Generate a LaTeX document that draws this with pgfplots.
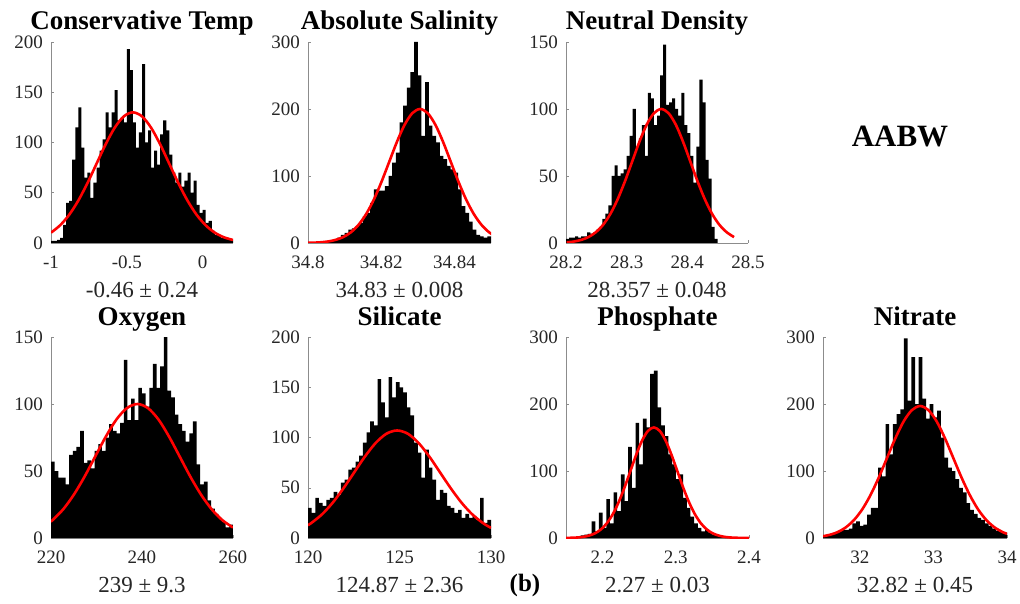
\documentclass[border=0pt]{standalone}
\usepackage{fontspec}
\setmainfont{Liberation Serif}
\usepackage{pgfplots}
\pgfplotsset{compat=1.18}
\definecolor{axgray}{gray}{0.55}
\definecolor{lblgray}{gray}{0.15}
\newcommand{\nodepth}[1]{\raisebox{0pt}[\height][0pt]{#1}}
\pgfplotsset{
  hist/.style={
    scale only axis, width=182pt, height=201pt,
    axis x line*=bottom, axis y line*=left,
    axis line style={axgray, line width=0.6pt},
    tick style={axgray, line width=0.5pt},
    tick align=inside, major tick length=3pt,
    enlargelimits=false, ymin=0,
    tick label style={font=\fontsize{19}{19}\selectfont, text=lblgray},
    xticklabel style={anchor=base, yshift=-25pt, inner sep=0pt},
    yticklabel style={anchor=east, xshift=-8pt, inner sep=0pt},
    title style={at={(axis description cs:0.5,1)}, anchor=base, yshift=6pt,
      font=\fontsize{27}{27}\bfseries\selectfont, inner sep=0pt},
    xlabel style={at={(axis description cs:0.5,0)}, anchor=base, yshift=-54pt,
      font=\fontsize{23}{23}\selectfont, text=lblgray, inner sep=0pt},
  },
  bars/.style={ybar interval, fill=black, draw=none},
  fit/.style={red, line width=2.6pt, smooth, no marks},
}
\begin{document}
\begin{tikzpicture}
\path[use as bounding box] (0pt,0pt) rectangle (1020pt,603pt);

% Conservative Temp
\begin{axis}[hist, at={(51pt,360pt)}, anchor=south west, width=182pt,
  xmin=-1, xmax=0.2, ymax=200,
  xtick={-1,-0.5,0}, xticklabels={-1,-0.5,0},
  ytick={0,50,100,150,200}, yticklabels={0,50,100,150,200},
  title={\nodepth{Conservative Temp}}, xlabel={-0.46 ± 0.24}]
\addplot[bars] coordinates {(-1.00,2) (-0.98,2) (-0.96,3) (-0.94,5) (-0.92,18) (-0.90,40) (-0.88,42) (-0.86,83) (-0.84,115) (-0.82,135) (-0.80,95) (-0.78,65) (-0.76,70) (-0.74,45) (-0.72,60) (-0.70,75) (-0.68,92) (-0.66,103) (-0.64,130) (-0.62,115) (-0.60,130) (-0.58,152) (-0.56,122) (-0.54,125) (-0.52,120) (-0.50,193) (-0.48,172) (-0.46,120) (-0.44,95) (-0.42,110) (-0.40,178) (-0.38,100) (-0.36,112) (-0.34,75) (-0.32,92) (-0.30,78) (-0.28,108) (-0.26,122) (-0.24,112) (-0.22,88) (-0.20,70) (-0.18,60) (-0.16,70) (-0.14,56) (-0.12,62) (-0.10,70) (-0.08,50) (-0.06,62) (-0.04,38) (-0.02,30) (0.00,33) (0.02,20) (0.04,22) (0.06,12) (0.08,8) (0.10,7) (0.12,5) (0.14,5) (0.16,4) (0.18,3) (0.20,3)};
\addplot[fit] coordinates {(-1.00,10.3) (-0.94,17.6) (-0.88,28.1) (-0.82,42.2) (-0.76,59.5) (-0.70,78.8) (-0.64,98.1) (-0.58,114.7) (-0.52,126.0) (-0.46,130) (-0.40,126.0) (-0.34,114.7) (-0.28,98.1) (-0.22,78.8) (-0.16,59.5) (-0.10,42.2) (-0.04,28.1) (0.02,17.6) (0.08,10.3) (0.14,5.7) (0.20,3.0)};
\end{axis}

% Absolute Salinity
\begin{axis}[hist, at={(308pt,360pt)}, anchor=south west, width=183pt,
  xmin=34.8, xmax=34.85, ymax=300,
  xtick={34.8,34.82,34.84}, xticklabels={34.8,34.82,34.84},
  ytick={0,100,200,300}, yticklabels={0,100,200,300},
  title={\nodepth{Absolute Salinity}}, xlabel={34.83 ± 0.008}]
\addplot[bars] coordinates {(34.800,0) (34.801,0) (34.802,0) (34.803,1) (34.804,1) (34.805,2) (34.806,3) (34.807,5) (34.808,8) (34.809,12) (34.810,15) (34.811,20) (34.812,22) (34.813,25) (34.814,30) (34.815,40) (34.816,45) (34.817,60) (34.818,80) (34.819,78) (34.820,78) (34.821,85) (34.822,100) (34.823,120) (34.824,135) (34.825,180) (34.826,205) (34.827,232) (34.828,255) (34.829,300) (34.830,250) (34.831,160) (34.832,240) (34.833,175) (34.834,160) (34.835,150) (34.836,130) (34.837,125) (34.838,115) (34.839,110) (34.840,105) (34.841,80) (34.842,55) (34.843,45) (34.844,32) (34.845,20) (34.846,12) (34.847,10) (34.848,8) (34.849,10) (34.850,10)};
\addplot[fit] coordinates {(34.8000,0.3) (34.8012,0.44) (34.8033,1.0) (34.8054,2.2) (34.8075,4.6) (34.8096,8.8) (34.8117,15.9) (34.8138,27.1) (34.8159,43.3) (34.8180,64.9) (34.8201,91.6) (34.8222,121.3) (34.8243,151.0) (34.8264,176.5) (34.8285,193.8) (34.8306,200) (34.8327,193.8) (34.8348,176.5) (34.8369,151.0) (34.8390,121.3) (34.8411,91.6) (34.8432,64.9) (34.8453,43.3) (34.8474,27.1) (34.8495,15.9) (34.8516,8.8)};
\end{axis}

% Neutral Density
\begin{axis}[hist, at={(566pt,360pt)}, anchor=south west, width=182pt,
  xmin=28.2, xmax=28.5, ymax=150,
  xtick={28.2,28.3,28.4,28.5}, xticklabels={28.2,28.3,28.4,28.5},
  ytick={0,50,100,150}, yticklabels={0,50,100,150},
  title={\nodepth{Neutral Density}}, xlabel={28.357 ± 0.048}]
\addplot[bars] coordinates {(28.200,3) (28.205,4) (28.210,4) (28.215,5) (28.220,4) (28.225,5) (28.230,5) (28.235,8) (28.240,7) (28.245,8) (28.250,10) (28.255,12) (28.260,18) (28.265,22) (28.270,28) (28.275,50) (28.280,58) (28.285,50) (28.290,52) (28.295,55) (28.300,65) (28.305,80) (28.310,100) (28.315,72) (28.320,78) (28.325,88) (28.330,65) (28.335,112) (28.340,108) (28.345,88) (28.350,95) (28.355,125) (28.360,148) (28.365,103) (28.370,105) (28.375,108) (28.380,100) (28.385,95) (28.390,112) (28.395,88) (28.400,82) (28.405,65) (28.410,45) (28.415,72) (28.420,122) (28.425,105) (28.430,62) (28.435,48) (28.440,12) (28.445,3) (28.450,3)};
\addplot[fit] coordinates {(28.201,0.5) (28.213,1.1) (28.225,2.3) (28.237,4.4) (28.249,8.0) (28.261,13.5) (28.273,21.6) (28.285,32.5) (28.297,45.8) (28.309,60.7) (28.321,75.5) (28.333,88.3) (28.345,96.9) (28.357,100) (28.369,96.9) (28.381,88.3) (28.393,75.5) (28.405,60.7) (28.417,45.8) (28.429,32.5) (28.441,21.6) (28.453,13.5) (28.465,8.0) (28.477,4.4)};
\end{axis}

% Oxygen
\begin{axis}[hist, at={(51pt,65pt)}, anchor=south west, width=182pt,
  xmin=220, xmax=260, ymax=150,
  xtick={220,240,260}, xticklabels={220,240,260},
  ytick={0,50,100,150}, yticklabels={0,50,100,150},
  title={\nodepth{Oxygen}}, xlabel={239 ± 9.3}]
\addplot[bars] coordinates {(220.0,57) (220.8,50) (221.6,45) (222.4,45) (223.2,40) (224.0,62) (224.8,65) (225.6,68) (226.4,80) (227.2,56) (228.0,58) (228.8,52) (229.6,65) (230.4,70) (231.2,65) (232.0,75) (232.8,85) (233.6,80) (234.4,78) (235.2,86) (236.0,133) (236.8,88) (237.6,104) (238.4,88) (239.2,112) (240.0,108) (240.8,98) (241.6,112) (242.4,130) (243.2,112) (244.0,128) (244.8,150) (245.6,110) (246.4,105) (247.2,92) (248.0,85) (248.8,80) (249.6,72) (250.4,78) (251.2,87) (252.0,55) (252.8,40) (253.6,42) (254.4,28) (255.2,22) (256.0,18) (256.8,15) (257.6,12) (258.4,8) (259.2,10) (260.0,10)};
\addplot[fit] coordinates {(220,12.4) (220.4,13.5) (222.725,21.6) (225.05,32.5) (227.375,45.8) (229.7,60.7) (232.025,75.5) (234.35,88.3) (236.675,96.9) (239,100) (241.325,96.9) (243.65,88.3) (245.975,75.5) (248.3,60.7) (250.625,45.8) (252.95,32.5) (255.275,21.6) (257.6,13.5) (260,7.8)};
\end{axis}

% Silicate
\begin{axis}[hist, at={(308pt,65pt)}, anchor=south west, width=183pt,
  xmin=120, xmax=130, ymax=200,
  xtick={120,125,130}, xticklabels={120,125,130},
  ytick={0,50,100,150,200}, yticklabels={0,50,100,150,200},
  title={\nodepth{Silicate}}, xlabel={124.87 ± 2.36}]
\addplot[bars] coordinates {(120.0,30) (120.2,25) (120.4,40) (120.6,35) (120.8,32) (121.0,38) (121.2,40) (121.4,46) (121.6,43) (121.8,55) (122.0,58) (122.2,68) (122.4,70) (122.6,76) (122.8,82) (123.0,95) (123.2,105) (123.4,116) (123.6,112) (123.8,158) (124.0,135) (124.2,120) (124.4,160) (124.6,140) (124.8,155) (125.0,150) (125.2,145) (125.4,130) (125.6,122) (125.8,95) (126.0,85) (126.2,60) (126.4,88) (126.6,70) (126.8,58) (127.0,38) (127.2,48) (127.4,45) (127.6,32) (127.8,30) (128.0,25) (128.2,28) (128.4,20) (128.6,24) (128.8,20) (129.0,22) (129.2,18) (129.4,40) (129.6,15) (129.8,18) (130.0,18)};
\addplot[fit] coordinates {(120,12.8) (120.15,14.5) (120.74,23.1) (121.33,34.7) (121.92,49.0) (122.51,64.9) (123.10,80.8) (123.69,94.4) (124.28,103.7) (124.87,107) (125.46,103.7) (126.05,94.4) (126.64,80.8) (127.23,64.9) (127.82,49.0) (128.41,34.7) (129.00,23.1) (129.59,14.5) (130,10.1)};
\end{axis}

% Phosphate
\begin{axis}[hist, at={(566pt,65pt)}, anchor=south west, width=183pt,
  xmin=2.15, xmax=2.4, ymax=300,
  xtick={2.2,2.3,2.4}, xticklabels={2.2,2.3,2.4},
  ytick={0,100,200,300}, yticklabels={0,100,200,300},
  title={\nodepth{Phosphate}}, xlabel={2.27 ± 0.03}]
\addplot[bars] coordinates {(2.150,0) (2.155,0) (2.160,1) (2.165,2) (2.170,4) (2.175,5) (2.180,6) (2.185,25) (2.190,10) (2.195,38) (2.200,15) (2.205,58) (2.210,22) (2.215,68) (2.220,40) (2.225,95) (2.230,55) (2.235,136) (2.240,75) (2.245,172) (2.250,110) (2.255,178) (2.260,165) (2.265,245) (2.270,250) (2.275,195) (2.280,168) (2.285,152) (2.290,125) (2.295,110) (2.300,88) (2.305,95) (2.310,60) (2.315,45) (2.320,32) (2.325,22) (2.330,15) (2.335,10) (2.340,12) (2.345,8) (2.350,5) (2.355,3) (2.360,2) (2.365,1) (2.370,1)};
\addplot[fit] coordinates {(2.150,0) (2.158,0.4) (2.166,0.8) (2.174,1.8) (2.182,3.8) (2.190,7.2) (2.198,13.1) (2.206,22.3) (2.214,35.7) (2.222,53.6) (2.230,75.5) (2.238,100.1) (2.246,124.5) (2.254,145.6) (2.262,159.9) (2.270,165) (2.278,159.9) (2.286,145.6) (2.294,124.5) (2.302,100.1) (2.310,75.5) (2.318,53.6) (2.326,35.7) (2.334,22.3) (2.342,13.1) (2.350,7.2) (2.358,3.8) (2.366,1.8) (2.374,0.8) (2.382,0.4) (2.390,0.1) (2.400,0)};
\end{axis}

% Nitrate
\begin{axis}[hist, at={(823pt,65pt)}, anchor=south west, width=184pt,
  xmin=31.5, xmax=34, ymax=300,
  xtick={32,33,34}, xticklabels={32,33,34},
  ytick={0,100,200,300}, yticklabels={0,100,200,300},
  title={\nodepth{Nitrate}}, xlabel={32.82 ± 0.45}]
\addplot[bars] coordinates {(31.50,2) (31.55,5) (31.60,6) (31.65,8) (31.70,10) (31.75,12) (31.80,12) (31.85,14) (31.90,22) (31.95,25) (32.00,18) (32.05,20) (32.10,35) (32.15,45) (32.20,45) (32.25,105) (32.30,92) (32.35,170) (32.40,125) (32.45,170) (32.50,185) (32.55,192) (32.60,298) (32.65,205) (32.70,270) (32.75,200) (32.80,270) (32.85,208) (32.90,178) (32.95,200) (33.00,180) (33.05,190) (33.10,150) (33.15,120) (33.20,105) (33.25,100) (33.30,88) (33.35,75) (33.40,68) (33.45,52) (33.50,42) (33.55,36) (33.60,30) (33.65,27) (33.70,22) (33.75,18) (33.80,14) (33.85,11) (33.90,9) (33.95,8) (34.00,8)};
\addplot[fit] coordinates {(31.5,2.7) (31.5825,4.5) (31.695,8.6) (31.8075,15.7) (31.92,26.7) (32.0325,42.6) (32.145,64.0) (32.2575,90.2) (32.37,119.5) (32.4825,148.7) (32.595,173.9) (32.7075,190.9) (32.82,197) (32.9325,190.9) (33.045,173.9) (33.1575,148.7) (33.27,119.5) (33.3825,90.2) (33.495,64.0) (33.6075,42.6) (33.72,26.7) (33.8325,15.7) (33.945,8.6) (34,6.3)};
\end{axis}

\node[font=\fontsize{31}{31}\bfseries\selectfont] at (900pt,466pt) {AABW};
\node[font=\fontsize{25}{25}\bfseries\selectfont, anchor=base] at (525pt,12pt) {(b)};
\end{tikzpicture}
\end{document}
